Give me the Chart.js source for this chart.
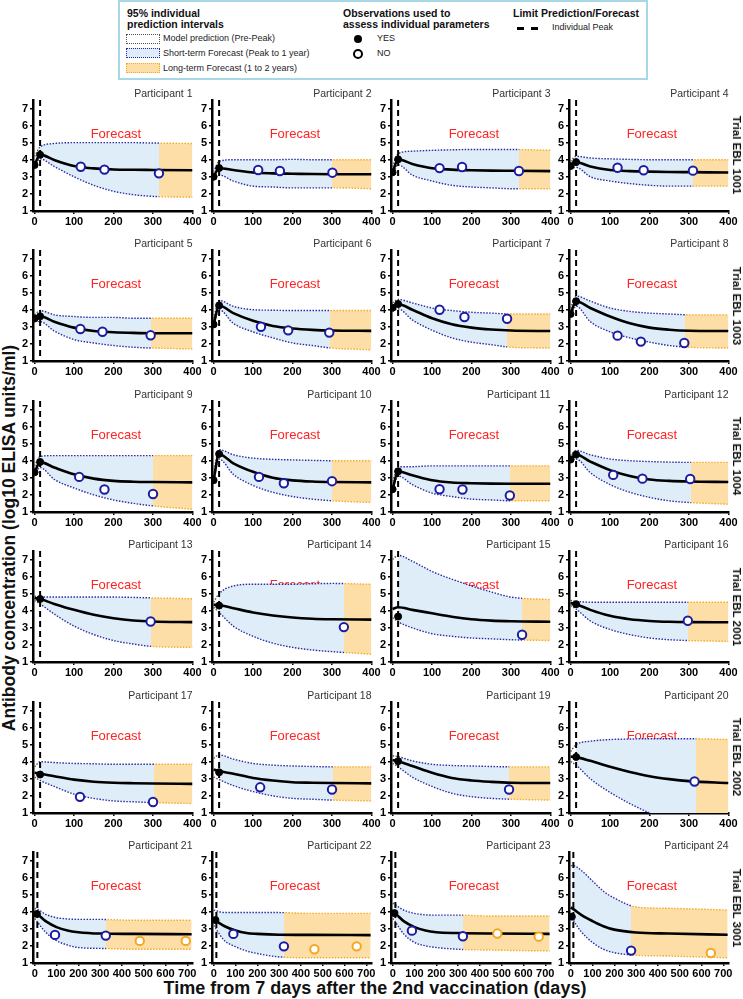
<!DOCTYPE html>
<html>
<head>
<meta charset="utf-8">
<script src="https://cdn.jsdelivr.net/npm/chart.js@4.4.0/dist/chart.umd.min.js"></script>
<style>
  body { margin: 0; background: #fff; width: 743px; height: 999px; position: relative; overflow: hidden;
         font-family: "Liberation Sans", Arial, sans-serif; color: #222; }
  canvas { position: absolute; }
  .abs { position: absolute; white-space: nowrap; }
  .legbox { position: absolute; left: 118px; top: 0px; width: 530px; height: 80px; border: 2px solid #a8d7e6; box-sizing: border-box; }
  .hd { font-weight: bold; font-size: 10.5px; line-height: 12px; color: #111; }
  .it { font-size: 9px; line-height: 11px; color: #222; }
  .sw { position: absolute; width: 32px; height: 8px; border: 1.5px dotted; }
  .rot { position: absolute; white-space: nowrap; font-weight: bold; color: #111; }
</style>
</head>
<body>
<div class="legbox"></div>
<div class="abs hd" style="left:127px;top:7px">95% individual</div>
<div class="abs hd" style="left:127px;top:18px">prediction intervals</div>
<div class="sw" style="left:126px;top:34px;border-color:#555;background:#fff"></div>
<div class="abs it" style="left:163px;top:33px">Model prediction (Pre-Peak)</div>
<div class="sw" style="left:126px;top:48px;border-color:#2929a3;background:rgb(222,237,247)"></div>
<div class="abs it" style="left:163px;top:48px">Short-term Forecast (Peak to 1 year)</div>
<div class="sw" style="left:126px;top:63px;border-color:rgb(245,170,40);background:rgb(252,222,166)"></div>
<div class="abs it" style="left:163px;top:63px">Long-term Forecast (1 to 2 years)</div>

<div class="abs hd" style="left:343px;top:7px">Observations used to</div>
<div class="abs hd" style="left:343px;top:18px">assess individual parameters</div>
<div class="abs" style="left:354px;top:35px;width:8px;height:8px;border-radius:50%;background:#000"></div>
<div class="abs it" style="left:377px;top:33px">YES</div>
<div class="abs" style="left:353px;top:49px;width:6px;height:6px;border-radius:50%;border:2.5px solid #000"></div>
<div class="abs it" style="left:377px;top:48px">NO</div>

<div class="abs hd" style="left:513px;top:7px">Limit Prediction/Forecast</div>
<div class="abs" style="left:517px;top:27px;width:7px;height:2.5px;background:#000"></div>
<div class="abs" style="left:531px;top:27px;width:7px;height:2.5px;background:#000"></div>
<div class="abs it" style="left:552px;top:22px">Individual Peak</div>

<div class="rot" style="left:9px;top:538px;font-size:17.5px;transform:translate(-50%,-50%) rotate(-90deg)">Antibody concentration (log10 ELISA units/ml)</div>
<div class="rot" style="left:375px;top:988px;font-size:18px;transform:translate(-50%,-50%)">Time from 7 days after the 2nd vaccination (days)</div>

<script>
// day grids the curves and interval bounds are read on
const grid400 = [0, 14, 50, 100, 150, 200, 250, 300, 400];
const grid700 = [0, 12, 50, 100, 150, 200, 300, 450, 720];
const xTicks400 = [0, 100, 200, 300, 400];
const xTicks700 = [0, 100, 200, 300, 400, 500, 600, 700];
const yTicks = [1, 2, 3, 4, 5, 6, 7];

const trialNames = ["Trial EBL 1001", "Trial EBL 1003", "Trial EBL 1004", "Trial EBL 2001", "Trial EBL 2002", "Trial EBL 3001"];

const peakDay = [14, 14, 14, 14, 14, 14, 14, 14, 14, 14, 14, 14,
                 14, 14, 14, 14, 14, 14, 14, 14, 12, 12, 12, 12];
// end of the short-term forecast (start of the long-term one)
const splitDay = [316, 301, 321, 311, 295, 294, 291, 289, 300, 301, 298, 304,
                  295, 331, 328, 298, 303, 302, 295, 318, 328, 324, 322, 277];

// model prediction (median)
const curveVals = [
  [3.70, 4.30, 3.98, 3.63, 3.49, 3.43, 3.41, 3.40, 3.38],
  [3.00, 3.50, 3.40, 3.25, 3.20, 3.18, 3.16, 3.15, 3.15],
  [3.25, 4.02, 3.75, 3.50, 3.42, 3.38, 3.36, 3.35, 3.33],
  [3.63, 3.86, 3.60, 3.40, 3.33, 3.30, 3.28, 3.27, 3.25],
  [3.49, 3.62, 3.30, 2.95, 2.75, 2.68, 2.64, 2.62, 2.62],
  [3.14, 4.25, 3.80, 3.35, 3.05, 2.90, 2.82, 2.78, 2.76],
  [4.12, 4.33, 4.00, 3.50, 3.15, 2.95, 2.84, 2.78, 2.75],
  [3.75, 4.50, 4.10, 3.60, 3.20, 2.95, 2.83, 2.77, 2.75],
  [3.32, 3.92, 3.60, 3.20, 2.95, 2.82, 2.77, 2.75, 2.73],
  [2.86, 4.38, 3.85, 3.35, 3.00, 2.85, 2.78, 2.75, 2.73],
  [2.33, 3.37, 3.15, 2.85, 2.72, 2.68, 2.66, 2.65, 2.65],
  [4.07, 4.36, 3.95, 3.45, 3.10, 2.90, 2.82, 2.78, 2.75],
  [4.75, 4.68, 4.40, 4.05, 3.76, 3.56, 3.43, 3.37, 3.33],
  [4.35, 4.33, 4.15, 3.90, 3.72, 3.60, 3.53, 3.50, 3.48],
  [4.10, 4.20, 4.05, 3.85, 3.65, 3.50, 3.42, 3.38, 3.35],
  [4.45, 4.38, 4.05, 3.70, 3.50, 3.40, 3.35, 3.33, 3.32],
  [3.35, 3.30, 3.15, 2.95, 2.83, 2.77, 2.74, 2.72, 2.70],
  [3.55, 3.45, 3.30, 3.05, 2.90, 2.80, 2.77, 2.75, 2.73],
  [4.10, 4.03, 3.75, 3.35, 3.05, 2.90, 2.82, 2.77, 2.75],
  [4.30, 4.27, 4.05, 3.70, 3.40, 3.15, 2.98, 2.86, 2.75],
  [3.90, 3.85, 3.45, 3.10, 2.90, 2.80, 2.72, 2.70, 2.68],
  [3.55, 3.45, 3.15, 2.90, 2.75, 2.70, 2.65, 2.64, 2.63],
  [3.95, 3.88, 3.45, 3.10, 2.90, 2.80, 2.75, 2.72, 2.70],
  [4.25, 4.15, 3.80, 3.45, 3.15, 2.95, 2.78, 2.72, 2.65]
];

// 95% prediction interval, upper bound
const upperVals = [
  [4.20, 4.75, 4.95, 5.00, 5.00, 5.00, 5.00, 4.98, 4.95],
  [3.30, 3.90, 4.00, 4.00, 4.00, 4.02, 4.00, 4.00, 4.00],
  [3.60, 4.35, 4.50, 4.55, 4.58, 4.60, 4.60, 4.60, 4.55],
  [3.90, 4.20, 4.10, 4.05, 4.02, 4.00, 4.00, 4.00, 4.00],
  [3.70, 3.95, 3.70, 3.60, 3.55, 3.55, 3.50, 3.50, 3.50],
  [3.50, 4.55, 4.20, 4.00, 3.97, 3.95, 3.95, 3.95, 3.95],
  [4.40, 4.60, 4.40, 4.10, 3.95, 3.85, 3.80, 3.75, 3.75],
  [4.10, 4.80, 4.50, 4.10, 3.90, 3.80, 3.75, 3.70, 3.70],
  [3.70, 4.25, 4.30, 4.30, 4.30, 4.30, 4.30, 4.30, 4.30],
  [3.30, 4.65, 4.35, 4.15, 4.08, 4.05, 4.02, 4.00, 4.00],
  [2.80, 3.65, 3.65, 3.70, 3.70, 3.70, 3.70, 3.70, 3.70],
  [4.30, 4.60, 4.35, 4.10, 4.00, 3.95, 3.92, 3.90, 3.90],
  [4.85, 4.80, 4.80, 4.80, 4.80, 4.80, 4.78, 4.75, 4.70],
  [4.50, 5.00, 5.45, 5.55, 5.55, 5.55, 5.58, 5.60, 5.55],
  [7.00, 7.25, 6.90, 6.30, 5.85, 5.45, 5.10, 4.80, 4.65],
  [4.60, 4.55, 4.50, 4.50, 4.50, 4.50, 4.50, 4.50, 4.50],
  [3.70, 4.00, 3.95, 3.90, 3.88, 3.85, 3.85, 3.85, 3.85],
  [4.20, 4.40, 4.15, 3.90, 3.80, 3.75, 3.72, 3.70, 3.70],
  [4.35, 4.30, 4.05, 3.85, 3.78, 3.75, 3.72, 3.70, 3.70],
  [4.60, 5.00, 5.20, 5.30, 5.33, 5.35, 5.35, 5.35, 5.30],
  [4.20, 4.15, 3.85, 3.65, 3.58, 3.55, 3.55, 3.50, 3.50],
  [4.10, 4.05, 3.95, 3.95, 3.95, 3.95, 3.95, 3.90, 3.90],
  [4.50, 4.40, 4.10, 3.90, 3.82, 3.80, 3.80, 3.75, 3.75],
  [6.70, 6.70, 6.40, 5.80, 5.20, 4.80, 4.28, 4.20, 4.10]
];

// 95% prediction interval, lower bound
const lowerVals = [
  [3.65, 4.05, 3.60, 3.00, 2.50, 2.15, 1.95, 1.85, 1.80],
  [2.90, 3.10, 2.75, 2.45, 2.40, 2.35, 2.35, 2.35, 2.30],
  [3.10, 3.70, 3.10, 2.75, 2.50, 2.40, 2.35, 2.30, 2.30],
  [3.50, 3.55, 3.00, 2.75, 2.60, 2.50, 2.45, 2.45, 2.45],
  [3.30, 3.30, 2.75, 2.25, 2.05, 1.90, 1.80, 1.75, 1.70],
  [3.00, 4.00, 3.20, 2.70, 2.35, 2.05, 1.90, 1.75, 1.65],
  [3.90, 4.05, 3.40, 2.80, 2.35, 2.10, 1.95, 1.80, 1.75],
  [3.60, 4.20, 3.30, 2.70, 2.35, 2.10, 1.90, 1.80, 1.75],
  [3.20, 3.60, 2.90, 2.40, 2.00, 1.70, 1.50, 1.35, 1.15],
  [2.70, 4.10, 3.20, 2.55, 2.15, 1.90, 1.75, 1.65, 1.55],
  [2.20, 3.10, 2.60, 2.10, 1.90, 1.75, 1.70, 1.65, 1.65],
  [3.95, 4.10, 3.30, 2.60, 2.15, 1.85, 1.65, 1.55, 1.45],
  [4.60, 4.40, 3.80, 3.10, 2.60, 2.25, 2.05, 1.90, 1.85],
  [4.20, 3.90, 3.10, 2.50, 2.10, 1.85, 1.70, 1.60, 1.45],
  [3.60, 3.35, 3.00, 2.65, 2.50, 2.40, 2.35, 2.30, 2.25],
  [4.30, 4.10, 3.40, 2.90, 2.60, 2.40, 2.30, 2.25, 2.20],
  [3.10, 2.90, 2.55, 2.10, 1.85, 1.70, 1.65, 1.60, 1.55],
  [3.10, 2.95, 2.60, 2.25, 2.00, 1.85, 1.80, 1.75, 1.70],
  [3.90, 3.70, 3.10, 2.55, 2.15, 1.95, 1.85, 1.80, 1.75],
  [4.00, 3.80, 3.00, 2.20, 1.55, 1.00, 0.60, 0.30, 0.20],
  [3.60, 3.40, 2.80, 2.30, 2.05, 1.90, 1.85, 1.80, 1.80],
  [3.20, 2.95, 2.30, 1.95, 1.70, 1.55, 1.35, 1.30, 1.30],
  [3.60, 3.40, 2.70, 2.20, 2.00, 1.90, 1.80, 1.75, 1.70],
  [3.80, 3.50, 2.80, 2.20, 1.80, 1.60, 1.45, 1.40, 1.30]
];

// observations used to fit (YES) and not used (NO), [day, log10 titre]
const yesObs = [
  [[0, 3.69], [14, 4.29]], [[0, 3.00], [14, 3.51]], [[0, 3.26], [14, 4.02]], [[0, 3.63], [14, 3.86]],
  [[0, 3.49], [14, 3.61]], [[0, 3.14], [14, 4.25]], [[0, 4.12], [14, 4.33]], [[0, 3.75], [14, 4.50]],
  [[0, 3.32], [14, 3.93]], [[0, 2.86], [14, 4.40]], [[0, 2.33], [14, 3.38]], [[0, 4.07], [14, 4.36]],
  [[14, 4.69]], [[14, 4.30]], [[14, 3.66]], [[14, 4.38]],
  [[14, 3.25]], [[14, 3.38]], [[14, 4.03]], [[14, 4.28]],
  [[10, 3.87]], [[8, 3.51]], [[8, 3.92]], [[5, 3.71]]
];
const noObs = [
  [[117, 3.59], [177, 3.42], [315, 3.20]],
  [[113, 3.40], [168, 3.34], [301, 3.24]],
  [[119, 3.51], [176, 3.57], [320, 3.34]],
  [[119, 3.53], [185, 3.38], [310, 3.36]],
  [[116, 2.87], [172, 2.71], [294, 2.50]],
  [[120, 3.00], [189, 2.79], [293, 2.66]],
  [[119, 4.00], [182, 3.57], [290, 3.47]],
  [[119, 2.48], [178, 2.13], [288, 2.05]],
  [[113, 3.05], [177, 2.31], [300, 2.05]],
  [[115, 3.05], [178, 2.68], [300, 2.80]],
  [[119, 2.33], [177, 2.31], [297, 1.96]],
  [[108, 3.17], [182, 2.95], [303, 2.93]],
  [[294, 3.37]],
  [[330, 3.04]],
  [[328, 2.59]],
  [[297, 3.41]],
  [[115, 1.94], [300, 1.64]],
  [[118, 2.50], [300, 2.37]],
  [[295, 2.37]],
  [[314, 2.84]],
  [[93, 2.64], [326, 2.60], [482, 2.29], [693, 2.29]],
  [[90, 2.70], [322, 1.97], [462, 1.80], [656, 1.97]],
  [[88, 2.89], [322, 2.56], [480, 2.72], [670, 2.54]],
  [[277, 1.72], [643, 1.58]]
];

const FONT = '"Liberation Sans", Arial, sans-serif';
const NAVY = "#2b2ba6";
const OPEN_BLUE = "#1c1ca0";
const ORANGE_LINE = "rgb(245,170,40)";
const ORANGE_DOT = "#f5a623";
const FILL_PRE = "rgba(255,255,255,0)";
const FILL_SHORT = "rgb(222,237,247)";
const FILL_LONG = "rgb(252,222,166)";

const W = 192, H = 150;
const AXIS_W = 18, AXIS_H = 20, PAD_TOP = 18, PAD_RIGHT = 14.5;

function clamp01(v) { return Math.max(0, Math.min(1, v)); }

// horizontal gradient with hard stops at the peak and at the forecast split
function phaseGradient(chart, i, cols) {
  const area = chart.chartArea;
  if (!area) return cols[1];
  const xs = chart.scales.x;
  const span = area.right - area.left;
  const f1 = clamp01((xs.getPixelForValue(peakDay[i]) - area.left) / span);
  const f2 = clamp01((xs.getPixelForValue(splitDay[i]) - area.left) / span);
  const g = chart.ctx.createLinearGradient(area.left, 0, area.right, 0);
  g.addColorStop(0, cols[0]);
  g.addColorStop(f1, cols[0]);
  g.addColorStop(f1, cols[1]);
  g.addColorStop(f2, cols[1]);
  g.addColorStop(f2, cols[2]);
  g.addColorStop(1, cols[2]);
  return g;
}

function toPts(xs, ys) { return xs.map((d, k) => ({ x: d, y: ys[k] })); }

for (let i = 0; i < 24; i++) {
  const row = Math.floor(i / 4), col = i % 4;
  const long = row === 5;
  const grid = long ? grid700 : grid400;
  const xTicks = long ? xTicks700 : xTicks400;

  const axisX = 33.3 + 178.67 * col;
  const baseY = 210.7 + 150.5 * row;

  const cv = document.createElement("canvas");
  cv.width = W; cv.height = H;
  cv.style.left = (axisX - AXIS_W) + "px";
  cv.style.top = (baseY - 110.9 - PAD_TOP) + "px";
  document.body.appendChild(cv);

  const bandStroke = ctx => phaseGradient(ctx.chart, i, ["#555", NAVY, ORANGE_LINE]);
  const bandFill = ctx => phaseGradient(ctx.chart, i, [FILL_PRE, FILL_SHORT, FILL_LONG]);

  const deco = {
    id: "deco" + i,
    beforeDatasetsDraw(chart) {
      const { ctx, chartArea: a, scales } = chart;
      ctx.save();
      ctx.fillStyle = "#ff2424";
      ctx.font = "13px " + FONT;
      ctx.textAlign = "center";
      ctx.textBaseline = "middle";
      ctx.fillText("Forecast", a.left + 0.52 * (a.right - a.left), scales.y.getPixelForValue(5.5));
      ctx.restore();
    },
    afterDatasetDraw(chart, args) {
      if (args.index !== 3) return;
      const { ctx, chartArea: a, scales } = chart;
      const px = scales.x.getPixelForValue(peakDay[i]);
      ctx.save();
      ctx.strokeStyle = "#000";
      ctx.lineWidth = 2;
      ctx.setLineDash([6, 4]);
      ctx.beginPath();
      ctx.moveTo(px, a.top);
      ctx.lineTo(px, a.bottom);
      ctx.stroke();
      ctx.restore();
    },
    afterDraw(chart) {
      const { ctx, chartArea: a } = chart;
      ctx.save();
      ctx.fillStyle = "#333";
      ctx.font = "10.5px " + FONT;
      ctx.textAlign = "right";
      ctx.textBaseline = "middle";
      ctx.fillText("Participant " + (i + 1), a.right, a.top - 6);
      ctx.restore();
    }
  };

  const tickFont = { family: FONT, size: 11, weight: "bold" };

  new Chart(cv, {
    type: "line",
    data: {
      datasets: [
        {
          data: yesObs[i].map(p => ({ x: p[0], y: p[1] })),
          showLine: false, pointRadius: 3.5, pointBackgroundColor: "#000",
          pointBorderColor: "#000", pointBorderWidth: 1
        },
        {
          data: noObs[i].map(p => ({ x: p[0], y: p[1] })),
          showLine: false, pointRadius: 4.2, pointBackgroundColor: "#fff", pointBorderWidth: 2,
          pointBorderColor: ctx => (ctx.raw && ctx.raw.x > splitDay[i] ? ORANGE_DOT : OPEN_BLUE)
        },
        {
          data: toPts(grid, curveVals[i]),
          borderColor: "#000", borderWidth: 2.6, pointRadius: 0,
          cubicInterpolationMode: "monotone"
        },
        {
          data: toPts(grid, upperVals[i]),
          borderColor: bandStroke, borderWidth: 1.4, borderDash: [1.5, 1.5],
          pointRadius: 0, cubicInterpolationMode: "monotone", fill: false
        },
        {
          data: toPts(grid, lowerVals[i]),
          borderColor: bandStroke, borderWidth: 1.4, borderDash: [1.5, 1.5],
          pointRadius: 0, cubicInterpolationMode: "monotone",
          fill: "-1", backgroundColor: bandFill
        }
      ]
    },
    options: {
      responsive: false,
      animation: false,
      events: [],
      layout: { padding: { top: PAD_TOP, right: PAD_RIGHT, left: 0, bottom: H - PAD_TOP - 110.9 - AXIS_H } },
      plugins: { legend: { display: false }, tooltip: { enabled: false } },
      scales: {
        x: {
          type: "linear",
          min: long ? -8 : -4,
          max: long ? 724 : 400,
          afterBuildTicks: s => { s.ticks = xTicks.map(v => ({ value: v })); },
          afterFit: s => { s.height = AXIS_H; },
          ticks: { autoSkip: false, maxRotation: 0, minRotation: 0, padding: 1, color: "#000", font: tickFont },
          grid: { drawOnChartArea: false, drawTicks: true, tickLength: 3, color: "#000", lineWidth: 1.5 },
          border: { color: "#000", width: 2.5 }
        },
        y: {
          type: "linear",
          min: 1,
          max: 7.5,
          afterBuildTicks: s => { s.ticks = yTicks.map(v => ({ value: v })); },
          afterFit: s => { s.width = AXIS_W; },
          ticks: { padding: 2, color: "#000", font: tickFont },
          grid: { drawOnChartArea: false, drawTicks: true, tickLength: 3, color: "#000", lineWidth: 1.5 },
          border: { color: "#000", width: 2.5 }
        }
      }
    },
    plugins: [deco]
  });

  if (col === 3) {
    const lab = document.createElement("div");
    lab.className = "rot";
    lab.textContent = trialNames[row];
    lab.style.fontSize = "11.5px";
    lab.style.left = "737px";
    lab.style.top = (baseY - 55.5) + "px";
    lab.style.transform = "translate(-50%,-50%) rotate(90deg)";
    document.body.appendChild(lab);
  }
}
</script>
</body>
</html>
